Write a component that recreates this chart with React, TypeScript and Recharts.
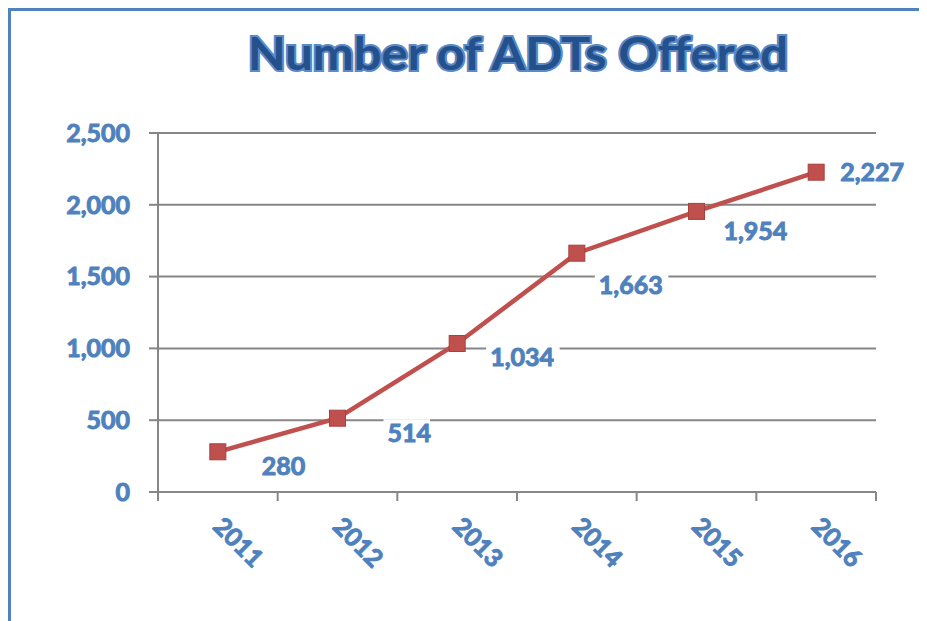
import React from "react";
import { LineChart, Line, XAxis, YAxis, CartesianGrid, LabelList } from "recharts";

const years = ["2011", "2012", "2013", "2014", "2015", "2016"];
const adts = [280, 514, 1034, 1663, 1954, 2227];
const yTicks = [0, 500, 1000, 1500, 2000, 2500];
const title = "Number of ADTs Offered";

const data = years.map((y, i) => ({ year: y, idx: i, value: adts[i] }));
// category centres (integers) carry labels; half values are the boundary tick marks
const xTicks = [-0.5, 0, 0.5, 1, 1.5, 2, 2.5, 3, 3.5, 4, 4.5, 5, 5.5];

// label placement style (offset of label left edge / vertical centre from point)
const labelOffsets = [
  [44, 14],
  [50, 15],
  [33, 13],
  [22, 32],
  [27, 20],
  [24, 0],
];

const BLUE = "#4F81BD";
const RED = "#C0504D";
const GRID = "#868686";
const FONT = "Lato, 'Open Sans', sans-serif";

const fmt = (v: number) => v.toLocaleString("en-US");

const SquareDot = (props: any) => {
  const { cx, cy } = props;
  if (cx == null || cy == null) return <g />;
  return <rect x={cx - 8} y={cy - 8} width={16} height={16} fill={RED} stroke="#A8403D" strokeWidth={1} />;
};

const ValueLabel = (props: any) => {
  const { x, y, value, index } = props;
  const [dx, dy] = labelOffsets[index] || [20, 0];
  const txt = fmt(Number(value));
  const w = txt.length * 13.5 + 6;
  return (
    <g>
      <rect x={x + dx - 4} y={y + dy - 14} width={w} height={28} fill="#fff" />
      <text x={x + dx} y={y + dy} dy="0.36em" textAnchor="start" fill={BLUE} stroke={BLUE} strokeWidth={1} fontSize={25} fontWeight={700} fontFamily={FONT}>
        {txt}
      </text>
    </g>
  );
};

const YearTick = (props: any) => {
  const { x, y, payload } = props;
  const v = Number(payload.value);
  if (!Number.isInteger(v)) {
    return <line x1={x} x2={x} y1={y} y2={y + 9} stroke={GRID} strokeWidth={2} />;
  }
  const ax = x - 6;
  const ay = y + 36;
  return (
    <text x={ax} y={ay} transform={`rotate(45, ${ax}, ${ay})`} textAnchor="start" fill={BLUE} stroke={BLUE} strokeWidth={1} fontSize={25} fontWeight={700} fontFamily={FONT}>
      {years[v]}
    </text>
  );
};

export default function App() {
  return (
    <div style={{ position: "relative", width: 919, height: 613 }}>
      <div
        style={{
          position: "absolute",
          left: 0,
          top: 0,
          width: 919,
          height: 613,
          borderTop: `3px solid ${BLUE}`,
          borderLeft: `3px solid ${BLUE}`,
          boxSizing: "border-box",
        }}
      >
        <LineChart width={905} height={607} data={data} margin={{ top: 122, right: 40, bottom: 46, left: 47 }}>
          <CartesianGrid vertical={false} stroke={GRID} strokeWidth={2} />
          <XAxis
            dataKey="idx"
            type="number"
            domain={[-0.5, 5.5]}
            ticks={xTicks}
            allowDataOverflow
            height={80}
            tickSize={0}
            tickMargin={0}
            interval={0}
            tickLine={false}
            axisLine={{ stroke: GRID, strokeWidth: 2 }}
            tick={<YearTick />}
          />
          <YAxis
            domain={[0, 2500]}
            ticks={yTicks}
            width={100}
            tickSize={9}
            tickMargin={19}
            tickFormatter={fmt}
            interval={0}
            axisLine={{ stroke: GRID, strokeWidth: 2 }}
            tickLine={{ stroke: GRID, strokeWidth: 2 }}
            tick={{ fill: BLUE, stroke: BLUE, strokeWidth: 1, fontSize: 25, fontWeight: 700, fontFamily: FONT }}
          />
          <Line
            dataKey="value"
            stroke={RED}
            strokeWidth={4.5}
            dot={<SquareDot />}
            activeDot={false}
            isAnimationActive={false}
          >
            <LabelList dataKey="value" content={<ValueLabel />} />
          </Line>
        </LineChart>
      </div>
      <svg width={919} height={100} style={{ position: "absolute", left: 0, top: 0, pointerEvents: "none" }}>
        <text
          x={510}
          y={62}
          textAnchor="middle"
          fontSize={46}
          fontWeight={700}
          fontFamily={FONT}
          fill="#24508C"
          stroke="#5B8AC6"
          strokeWidth={4}
          paintOrder="stroke"
          textLength={540}
          lengthAdjust="spacingAndGlyphs"
        >
          {title}
        </text>
      </svg>
    </div>
  );
}
